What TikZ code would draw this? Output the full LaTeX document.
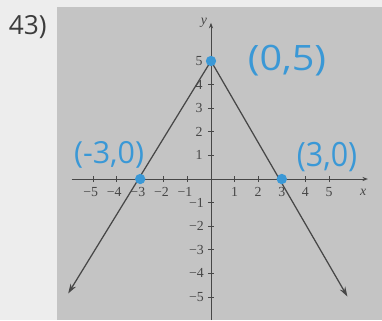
\documentclass[tikz,border=0pt]{standalone}
\usepackage{fontspec}
\setmainfont{Liberation Serif}
\newfontfamily\probfont{Open Sans}
\usetikzlibrary{arrows.meta}
\definecolor{paper}{HTML}{EDEDED}
\definecolor{panel}{HTML}{C4C4C4}
\definecolor{axisgray}{HTML}{474747}
\definecolor{ink}{HTML}{3A98D6}
\begin{document}
\begin{tikzpicture}[x=0.6cm, y=0.6cm,
  tickmark/.style={axisgray, line width=0.6pt},
  ticklabel/.style={font=\fontsize{10}{11}\selectfont, text=axisgray, inner sep=1pt},
  axislabel/.style={font=\itshape\fontsize{10}{11}\selectfont, text=axisgray, inner sep=1pt},
  axisline/.style={axisgray, line width=0.7pt, -{Stealth[length=4pt, width=3pt]}},
  graphline/.style={axisgray, line width=0.9pt, -{Stealth[length=7pt, width=4.5pt]}},
  dot/.style={circle, fill=ink, inner sep=0pt, minimum size=7.5pt},
  hand/.style={text=ink, font=\probfont\fontsize{22}{24}\selectfont, inner sep=0pt}]
  % page and grey panel
  \fill[paper] (-8.94,-5.975) rectangle (7.246,7.585);
  \useasboundingbox (-8.94,-5.975) rectangle (7.246,7.585);
  \fill[panel] (-6.53,-5.975) rectangle (7.246,7.29);
  \node[text=axisgray!85!black, font=\probfont\fontsize{19}{21}\selectfont] (num) at (-7.76,6.42) {43)};
  % axes
  \coordinate (xl) at (-5.9,0);
  \coordinate (xr) at (6.65,0);
  \coordinate (yb) at (0,-5.975);
  \coordinate (yt) at (0,6.62);
  \draw[axisline] (xl) -- (xr);
  \draw[axisline] (yb) -- (yt);
  \node[axislabel] (xlab) at (6.45,-0.55) {x};
  \node[axislabel] (ylab) at (-0.3,6.6) {y};
  % ticks
  \foreach \k in {-5,...,-1,1,2,...,5} {
    \draw[tickmark] (\k,-0.13) -- (\k,0.13);
    \draw[tickmark] (-0.13,\k) -- (0.13,\k);
  }
  \foreach \k in {1,...,5} {
    \node[ticklabel] (xp\k) at (\k,-0.55) {\k};
    \node[ticklabel] (xm\k) at (-\k-0.1,-0.55) {−\k};
    \node[ticklabel] (yp\k) at (-0.5,\k) {\k};
    \node[ticklabel] (ym\k) at (-0.62,-\k) {−\k};
  }
  % intercepts
  \coordinate (top) at (0,5);
  \coordinate (lft) at (-3,0);
  \coordinate (rgt) at (3,0);
  \coordinate (lend) at (-6.05,-4.85);
  \coordinate (rend) at (5.78,-4.98);
  \draw[graphline] (top) -- (lend);
  \draw[graphline] (top) -- (rend);
  \node[dot] (ptop) at (top) {};
  \node[dot] (plft) at (lft) {};
  \node[dot] (prgt) at (rgt) {};
  % handwritten labels
  \node[hand] (ltop) at (3.22,5.0) {\scalebox{1.3}[1.15]{(0,5)}};
  \node[hand] (llft) at (-4.32,1.02) {(-3,0)};
  \node[hand] (lrgt) at (4.92,0.93) {\scalebox{1}[1.1]{(3,0)}};
\end{tikzpicture}
\end{document}
